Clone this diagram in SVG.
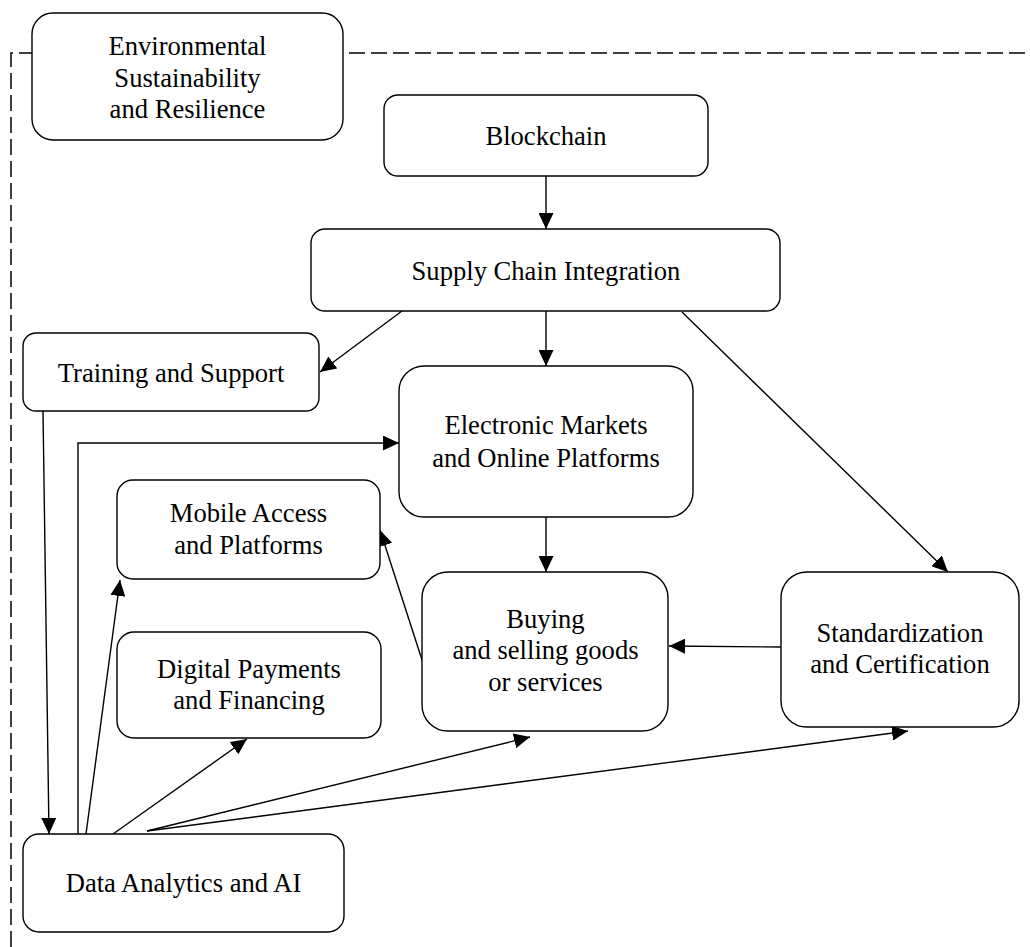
<svg xmlns="http://www.w3.org/2000/svg" width="1030" height="947" viewBox="0 0 1030 947">
<style>
.box{fill:#fff;stroke:#000;stroke-width:1.4}
.lbl{font-family:"Liberation Serif","Times New Roman",serif;font-size:26.6px;fill:#000;text-anchor:middle}
.edge{fill:none;stroke:#000;stroke-width:1.4}
.frame{fill:none;stroke:#000;stroke-width:1.5;stroke-dasharray:16 6}
</style>
<defs>
<marker id="ah" viewBox="0 0 16 15" refX="16" refY="7.5" markerWidth="16" markerHeight="15" markerUnits="userSpaceOnUse" orient="auto">
<path d="M0,0 L16,7.5 L0,15 z" fill="#000"/>
</marker>
</defs>
<path class="frame" d="M11,947 L11,53 L1030,53"/>
<g id="connectors">
<path class="edge" marker-end="url(#ah)" d="M546,176 L546,229"/>
<path class="edge" marker-end="url(#ah)" d="M546,311 L546,366"/>
<path class="edge" marker-end="url(#ah)" d="M402,311 L320,372"/>
<path class="edge" marker-end="url(#ah)" d="M682,312 L948,572"/>
<path class="edge" marker-end="url(#ah)" d="M546,517 L546,572"/>
<path class="edge" marker-end="url(#ah)" d="M781,647 L669,646"/>
<path class="edge" marker-end="url(#ah)" d="M43,411 L49,834"/>
<path class="edge" marker-end="url(#ah)" d="M78,834 L78,443 L399,443"/>
<path class="edge" marker-end="url(#ah)" d="M86,834 L120,580"/>
<path class="edge" marker-end="url(#ah)" d="M113,834 L247,739"/>
<path class="edge" marker-end="url(#ah)" d="M147,831 L530,737"/>
<path class="edge" marker-end="url(#ah)" d="M147,831 L908,731"/>
<path class="edge" marker-end="url(#ah)" d="M423,663 L380,530"/>
</g>
<g id="env">
<rect class="box" x="32" y="13" width="311" height="127" rx="21"/>
<text class="lbl" x="187.5" y="55">Environmental</text>
<text class="lbl" x="187.5" y="86.5">Sustainability</text>
<text class="lbl" x="187.5" y="118">and Resilience</text>
</g>
<g id="blockchain">
<rect class="box" x="384" y="95" width="324" height="81" rx="14"/>
<text class="lbl" x="546" y="145">Blockchain</text>
</g>
<g id="supply">
<rect class="box" x="311" y="229" width="469" height="82" rx="14"/>
<text class="lbl" x="546" y="280">Supply Chain Integration</text>
</g>
<g id="training">
<rect class="box" x="23" y="333" width="296" height="78" rx="13"/>
<text class="lbl" x="171" y="382">Training and Support</text>
</g>
<g id="electronic">
<rect class="box" x="399" y="366" width="294" height="151" rx="25"/>
<text class="lbl" x="546" y="434">Electronic Markets</text>
<text class="lbl" x="546" y="467">and Online Platforms</text>
</g>
<g id="mobile">
<rect class="box" x="117" y="480" width="263" height="99" rx="16"/>
<text class="lbl" x="248.5" y="522">Mobile Access</text>
<text class="lbl" x="248.5" y="554">and Platforms</text>
</g>
<g id="digital">
<rect class="box" x="117" y="632" width="264" height="106" rx="17"/>
<text class="lbl" x="249" y="678">Digital Payments</text>
<text class="lbl" x="249" y="709">and Financing</text>
</g>
<g id="buying">
<rect class="box" x="422" y="572" width="246" height="159" rx="26"/>
<text class="lbl" x="545.5" y="628">Buying</text>
<text class="lbl" x="545.5" y="659">and selling goods</text>
<text class="lbl" x="545.5" y="691">or services</text>
</g>
<g id="standard">
<rect class="box" x="781" y="572" width="238" height="155" rx="26"/>
<text class="lbl" x="900" y="642">Standardization</text>
<text class="lbl" x="900" y="673">and Certification</text>
</g>
<g id="data">
<rect class="box" x="23" y="834" width="321" height="98" rx="16"/>
<text class="lbl" x="183.5" y="892">Data Analytics and AI</text>
</g>
</svg>
